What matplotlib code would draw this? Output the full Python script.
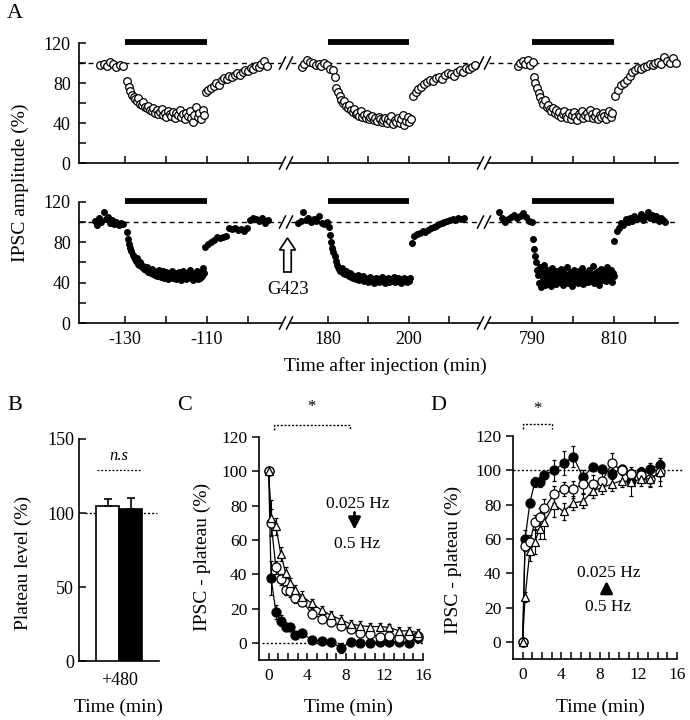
import numpy as np
import matplotlib.pyplot as plt
from matplotlib.lines import Line2D
from matplotlib.patches import FancyArrow

plt.rcParams['font.family'] = ['Liberation Serif', 'DejaVu Serif']
plt.rcParams['font.size'] = 13
plt.rcParams['axes.linewidth'] = 1.2

# ---------------- panel A data ----------------
# time windows (min) of each piece, values (%)
drug_on = [(-130, -110), (180, 200), (790, 810)]

# open circles (upper row)
top1_base_t, top1_base = (-136, -130.5), [98, 99, 97, 101, 99, 96, 98, 97]
top1_drug_t, top1_drug = (-129.5, -110.6), [82, 76, 72, 68, 66, 64, 62, 65, 59, 58, 61, 56, 55, 57, 53, 52,
                                            55, 50, 53, 49, 51, 54, 48, 50, 46, 52, 49, 47, 51, 45, 50, 48,
                                            53, 46, 49, 44, 50, 47, 52, 45, 41, 48, 56, 46, 50, 44, 53, 48]
top1_rec_t, top1_rec = (-110.3, -95.4), [71, 73, 75, 77, 80, 78, 83, 85, 84, 87, 86, 88, 90, 88, 91, 93,
                                         92, 95, 94, 97, 96, 99, 102, 97]
top2_base_t, top2_base = (173.5, 181.2), [96, 99, 103, 101, 100, 98, 99, 97, 100, 98, 94, 93]
top2_drug_t, top2_drug = (181.7, 200.5), [86, 75, 71, 67, 63, 60, 62, 57, 55, 58, 53, 51, 54, 49, 50, 47,
                                          52, 46, 48, 45, 49, 44, 46, 47, 43, 45, 42, 46, 44, 41, 43, 45,
                                          40, 44, 42, 47, 39, 43, 41, 45, 40, 44, 48, 38, 42, 46, 41, 44]
top2_rec_t, top2_rec = (200.9, 216.3), [67, 71, 74, 76, 79, 81, 83, 82, 85, 86, 84, 88, 90, 89, 87, 91,
                                        93, 91, 95, 94, 96, 98]
top3_base_t, top3_base = (786.5, 790.2), [97, 100, 102, 99, 103, 98, 101]
top3_drug_t, top3_drug = (790.4, 809.6), [86, 80, 75, 70, 66, 62, 59, 63, 56, 58, 54, 52, 55, 50, 53, 48,
                                          51, 46, 49, 52, 47, 45, 50, 44, 48, 51, 46, 43, 49, 47, 52, 45,
                                          48, 50, 46, 53, 49, 45, 47, 51, 44, 48, 46, 50, 47, 44, 49, 52,
                                          46, 50]
top3_rec_t, top3_rec = (810.3, 825), [67, 73, 78, 80, 83, 87, 91, 93, 95, 94, 96, 97, 99, 98, 100, 101,
                                      99, 106, 102, 100, 105, 100]

# filled circles (lower row)
bot1_base_t, bot1_base = (-137.3, -130.5), [101, 97, 104, 100, 110, 103, 105, 99, 102, 98, 100, 97, 99, 98]
bot1_drug_t, bot1_drug = (-129.5, -110.6), [90, 83, 78, 74, 71, 67, 65, 63, 61, 64, 59, 58, 60, 56, 57, 54,
                                            55, 53, 56, 51, 53, 50, 54, 49, 52, 48, 51, 47, 50, 53, 46, 49,
                                            52, 45, 48, 51, 46, 44, 49, 47, 52, 45, 48, 50, 44, 47, 51, 46,
                                            43, 49, 52, 45, 48, 44, 50, 47, 53, 45, 48, 43, 49, 46, 52, 44,
                                            48, 45, 51, 47, 55, 50]
bot1_rec_t, bot1_rec = (-110.5, -95), [75, 78, 80, 82, 85, 84, 85, 86, 94, 93, 94, 92, 93, 91, 94, 102,
                                       104, 103, 101, 104, 99, 102]
bot2_base_t, bot2_base = (172.6, 179.8), [99, 101, 110, 102, 104, 100, 103, 101, 106, 99, 98, 100]
bot2_drug_t, bot2_drug = (180.2, 200.3), [95, 87, 80, 74, 70, 66, 61, 58, 56, 54, 52, 55, 50, 51, 49, 52,
                                          48, 47, 50, 46, 48, 45, 47, 44, 46, 48, 43, 45, 44, 47, 42, 45,
                                          43, 41, 44, 46, 42, 44, 40, 43, 45, 42, 44, 41, 43, 46, 42, 44,
                                          40, 43, 45, 41, 44, 42, 43, 46, 41, 44, 42, 45, 43, 40, 44, 42,
                                          45, 43, 41, 44, 42, 45]
bot2_rec_t, bot2_rec = (200.7, 213.5), [79, 86, 88, 89, 91, 90, 92, 94, 95, 96, 98, 99, 100, 101, 102, 103,
                                        102, 104, 103, 104]
bot3_base_t, bot3_base = (782, 790), [110, 104, 100, 103, 105, 107, 104, 106, 109, 105, 101, 100]
bot3_drug_t, bot3_drug = (790.2, 810), [83, 73, 66, 60, 53, 48, 40, 56, 36, 51, 44, 58, 38, 47, 53, 41,
                                        49, 45, 37, 55, 43, 50, 46, 39, 52, 44, 48, 41, 54, 45, 38, 50,
                                        47, 43, 56, 40, 49, 44, 51, 37, 46, 53, 42, 48, 45, 40, 52, 47,
                                        43, 55, 39, 49, 44, 50, 46, 41, 53, 45, 48, 43, 57, 40, 50, 46,
                                        44, 52, 38, 47, 54, 43, 49, 45, 51, 42, 56, 46, 48, 44, 53, 41,
                                        50, 47]
bot3_rec_t, bot3_rec = (810.1, 822.5), [81, 91, 94, 99, 97, 103, 100, 104, 101, 106, 103, 104, 108, 102,
                                        105, 110, 104, 107, 103, 106, 101, 104, 102, 100]

seg_ticks = [[-130, -120, -110, -100], [180, 190, 200, 210], [790, 800, 810, 820]]
seg_labels = [['-130', '', '-110', ''], ['180', '', '200', ''], ['790', '', '810', '']]

# ---------------- panel B data ----------------
b_groups = ['ctrl', 'G423']
b_means = [105, 103]
b_err = [4.5, 7]

# ---------------- panel C data ----------------
c_t = [0, 0.25, 0.75, 1.25, 1.75, 2.25, 2.75, 3.5, 4.5, 5.5, 6.5, 7.5, 8.5, 9.5, 10.5, 11.5, 12.5, 13.5, 14.5, 15.5]
c_filled = [100, 38, 18, 13, 9, 9, 4.5, 5.5, 1.5, 1, 0.5, -3, 0.5, 0, 0, 0.5, 0.5, 0.5, 0, 3]
c_filled_err = [0, 10, 4, 3, 2, 2, 2, 2, 1.5, 1.5, 1.5, 3, 1.5, 1.5, 1.5, 1.5, 1.5, 1.5, 1.5, 2]
c_open = [100, 70, 44, 37, 31, 30, 26, 24, 17, 14, 12, 10, 8, 6, 5, 3.5, 4, 3, 4, 4]
c_open_err = [0, 8, 4, 3, 3, 3, 3, 2.5, 2.5, 2, 2, 2, 2, 2, 2, 2, 2, 2, 2, 2]
c_tri = [100, 73, 68, 52, 41, 35, 31, 27, 23, 19, 16, 13.5, 11, 10, 9.5, 9.5, 9, 7, 7, 6]
c_tri_err = [0, 10, 5, 4, 3, 3, 3, 3, 2.5, 2.5, 2.5, 2.5, 2.5, 2.5, 2, 2, 2, 2, 2, 2]

# ---------------- panel D data ----------------
d_t = [0, 0.25, 0.75, 1.25, 1.75, 2.25, 3.25, 4.25, 5.25, 6.25, 7.25, 8.25, 9.25, 10.25, 11.25, 12.25, 13.25, 14.25]
d_filled = [0, 60, 81, 93, 93, 97, 100, 104, 108, 96, 102, 101, 98, 101, 94, 99, 101, 103]
d_filled_err = [0, 5, 2, 3, 3, 2, 6, 7, 6, 4, 2, 2, 3, 2, 3, 3, 3, 3]
d_open = [0, 56, 58, 70, 73, 78, 86, 89, 89, 92, 92, 94, 104, 100, 98, 97, 95, 99]
d_open_err = [0, 3, 4, 4, 5, 5, 5, 4, 5, 5, 5, 5, 6, 3, 4, 4, 5, 8]
d_tri = [0, 26, 53, 58, 66, 70, 80, 76, 81, 82, 88, 90, 92, 94, 93, 95, 95, 99]
d_tri_err = [0, 3, 6, 7, 6, 10, 7, 5, 4, 4, 4, 4, 4, 4, 8, 4, 4, 5]

W, H = 690, 720
fig = plt.figure(figsize=(W / 100, H / 100), dpi=100)


def box(x0, y0, x1, y1):  # pixel box, origin top left
    return [x0 / W, 1 - y1 / H, (x1 - x0) / W, (y1 - y0) / H]


def ftext(x, y, s, **kw):  # text at pixel position
    fig.text(x / W, 1 - y / H, s, ha='center', va='center', **kw)


def slash(xp, yp):  # "//" break mark
    for dx in (-3.5, 3.5):
        fig.add_artist(Line2D([(xp + dx - 3) / 100, (xp + dx + 3) / 100],
                              [(H - yp - 6) / 100, (H - yp + 6) / 100],
                              transform=fig.dpi_scale_trans, color='k', lw=1.1))


def piece(ax, rng, vals, filled):
    t = np.linspace(rng[0], rng[1], len(vals))
    if filled:
        ax.plot(t, vals, 'o', color='k', ms=4, ls='none', clip_on=False)
    else:
        ax.plot(t, vals, 'o', mfc='white', mec='k', mew=0.9, ms=5.5, ls='none', clip_on=False)


# ---------------- panel A ----------------
seg_px = [(79, 281), (291, 479), (489, 678)]
seg_lim = [(-141.2, -91.9), (170.9, 217.3), (779.5, 825.6)]
rows = [(43, 163), (202, 323)]
top = [(top1_base_t, top1_base, top1_drug_t, top1_drug, top1_rec_t, top1_rec),
       (top2_base_t, top2_base, top2_drug_t, top2_drug, top2_rec_t, top2_rec),
       (top3_base_t, top3_base, top3_drug_t, top3_drug, top3_rec_t, top3_rec)]
bot = [(bot1_base_t, bot1_base, bot1_drug_t, bot1_drug, bot1_rec_t, bot1_rec),
       (bot2_base_t, bot2_base, bot2_drug_t, bot2_drug, bot2_rec_t, bot2_rec),
       (bot3_base_t, bot3_base, bot3_drug_t, bot3_drug, bot3_rec_t, bot3_rec)]

for r, (y0, y1) in enumerate(rows):
    traces = top if r == 0 else bot
    for s in range(3):
        ax = fig.add_axes(box(seg_px[s][0], y0, seg_px[s][1], y1))
        ax.set_xlim(*seg_lim[s])
        ax.set_ylim(0, 120)
        ax.spines['top'].set_visible(False)
        ax.spines['right'].set_visible(False)
        ax.axhline(100, color='k', lw=1, ls=(0, (3.5, 3)))
        ax.plot(drug_on[s], [121.3, 121.3], color='k', lw=4.2, solid_capstyle='butt', clip_on=False)
        d = traces[s]
        for k in range(3):
            piece(ax, d[2 * k], d[2 * k + 1], r == 1)
        ax.set_xticks(seg_ticks[s])
        ax.set_xticklabels(seg_labels[s] if r == 1 else [])
        ax.tick_params(direction='in', length=5, width=1.1, labelsize=13, pad=6)
        if s == 0:
            ax.set_yticks([0, 20, 40, 60, 80, 100, 120])
            ax.set_yticklabels(['0', '', '40', '', '80', '', '120'])
        else:
            ax.spines['left'].set_visible(False)
            ax.set_yticks([])

for xb in (286, 484):
    for yb in (163, 63, 323, 222):
        slash(xb, yb)

ftext(20, 183, 'IPSC amplitude (%)', rotation=90, fontsize=14)
ftext(385, 366, 'Time after injection (min)', fontsize=14)
ftext(15, 13, 'A', fontsize=16)

# G423 hollow arrow
fig.add_artist(FancyArrow(2.875, (H - 272) / 100, 0, 0.34, width=0.075, head_width=0.16,
                          head_length=0.12, length_includes_head=True, fc='white', ec='k', lw=1.2,
                          transform=fig.dpi_scale_trans))
ftext(288, 289, 'G423', fontsize=13.5)

# ---------------- panel B ----------------
axB = fig.add_axes(box(79, 439, 159, 661))
axB.set_xlim(-1.25, 2.22)
axB.set_ylim(0, 150)
axB.plot([-0.99, 2.13], [100, 100], color='k', lw=1, ls=(0, (1.5, 1.5)), zorder=1)
axB.bar([0, 1], b_means, width=1, color=['white', 'black'], edgecolor='k', lw=1.2, zorder=3)
axB.errorbar([0, 1], b_means, yerr=[[0, 0], b_err], fmt='none', ecolor='k', elinewidth=1.2,
             capsize=3, capthick=1.2, zorder=4)
axB.plot([-0.47, 1.48], [129, 129], color='k', lw=0.9, ls=(0, (1.5, 1.5)))
axB.text(0.5, 133, 'n.s', style='italic', ha='center', va='bottom', fontsize=12)
axB.spines['top'].set_visible(False)
axB.spines['right'].set_visible(False)
axB.set_yticks([0, 50, 100, 150])
axB.set_xticks([0.5])
axB.set_xticklabels(['+480'])
axB.tick_params(axis='y', direction='in', length=5, width=1.1, labelsize=13)
axB.tick_params(axis='x', length=0, labelsize=13, pad=8)
ftext(23, 563, 'Plateau level (%)', rotation=90, fontsize=14)
ftext(118, 707, 'Time (min)', fontsize=14)
ftext(15, 405, 'B', fontsize=16)


# ---------------- panels C and D ----------------
def recovery(ax, t, series):
    styles = [dict(marker='o', mfc='k', mec='k'),
              dict(marker='o', mfc='white', mec='k'),
              dict(marker='^', mfc='white', mec='k')]
    for (vals, err), st in zip(series, styles):
        ax.errorbar(t, vals, yerr=err, color='k', lw=0.9, elinewidth=0.8, capsize=1.5,
                    ms=6.5 if st['marker'] == 'o' else 6, mew=0.9, clip_on=False, **st)
    ax.set_xlim(-1, 16)
    ax.set_ylim(-10, 120)
    ax.spines['top'].set_visible(False)
    ax.spines['right'].set_visible(False)
    ax.set_xticks(range(0, 17))
    ax.set_xticklabels([str(v) if v % 4 == 0 else '' for v in range(0, 17)])
    ax.set_yticks([0, 20, 40, 60, 80, 100, 120])
    ax.tick_params(axis='x', direction='in', length=5, width=1.1, labelsize=12.5, pad=6)
    ax.tick_params(axis='y', direction='out', length=5, width=1.1, labelsize=12.5)


arrow_kw = dict(arrowstyle='-|>,head_width=0.28,head_length=0.55', lw=2, color='k',
                shrinkA=0, shrinkB=0)

axC = fig.add_axes(box(259, 437, 423, 660))
axC.plot([-0.7, 16], [0, 0], color='k', lw=1, ls=(0, (1.5, 1.5)), zorder=0)
recovery(axC, c_t, [(c_filled, c_filled_err), (c_open, c_open_err), (c_tri, c_tri_err)])
axC.plot([0.6, 0.6, 8.4, 8.4], [124, 127, 127, 124], color='k', lw=1, ls=(0, (1.5, 1.2)), clip_on=False)
axC.text(4.4, 133, '*', ha='center', va='bottom', fontsize=12)
axC.text(9.2, 81, '0.025 Hz', ha='center', va='center', fontsize=12.5)
axC.annotate('', xy=(8.9, 66), xytext=(8.9, 76), arrowprops=arrow_kw)
axC.text(9.2, 57.5, '0.5 Hz', ha='center', va='center', fontsize=12.5)
ftext(202, 557, 'IPSC - plateau (%)', rotation=90, fontsize=14)
ftext(348, 707, 'Time (min)', fontsize=14)
ftext(185, 405, 'C', fontsize=16)

axD = fig.add_axes(box(513, 436, 677, 659))
axD.plot([-1, 16.6], [100, 100], color='k', lw=1, ls=(0, (1.5, 1.5)), zorder=0, clip_on=False)
recovery(axD, d_t, [(d_filled, d_filled_err), (d_open, d_open_err), (d_tri, d_tri_err)])
axD.plot([0, 0, 3.0, 3.0], [124, 127, 127, 124], color='k', lw=1, ls=(0, (1.5, 1.2)), clip_on=False)
axD.text(1.5, 131, '*', ha='center', va='bottom', fontsize=12)
axD.text(8.9, 40, '0.025 Hz', ha='center', va='center', fontsize=12.5)
axD.annotate('', xy=(8.7, 35.5), xytext=(8.7, 28.5), arrowprops=arrow_kw)
axD.text(8.9, 20.5, '0.5 Hz', ha='center', va='center', fontsize=12.5)
ftext(453, 560, 'IPSC - plateau (%)', rotation=90, fontsize=14)
ftext(600, 707, 'Time (min)', fontsize=14)
ftext(438, 405, 'D', fontsize=16)

fig.savefig('out.png', dpi=100)
